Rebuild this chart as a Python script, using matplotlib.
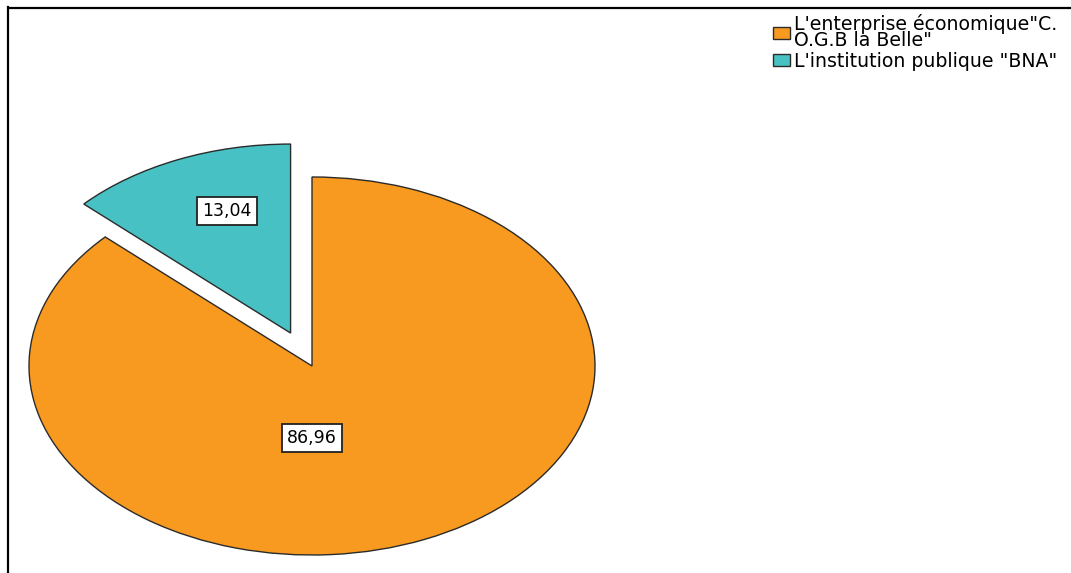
import matplotlib
matplotlib.use("Agg")
import matplotlib.pyplot as plt
from matplotlib.lines import Line2D
import numpy as np

# Share of respondents by organisation (percent)
categories = ["L'enterprise économique\"C.\nO.G.B la Belle\"", "L'institution publique \"BNA\""]
values = [86.96, 13.04]
colors = ["#F89A1F", "#47C1C4"]
explode = [0.0, 0.19]

W, H = 1071, 573
fig = plt.figure(figsize=(W / 100, H / 100), dpi=100)
fig.patch.set_facecolor("white")

# Pie axes: elliptical pie centred at (312, 366) px with radii 283 x 189 px
cx_px, cy_px, rx_px, ry_px = 312, H - 366, 283, 189
xl, yl = (-1.1, 1.1), (-1.05, 1.3)
left = cx_px + xl[0] * rx_px
bottom = cy_px + yl[0] * ry_px
ax = fig.add_axes([left / W, bottom / H,
                   (xl[1] - xl[0]) * rx_px / W, (yl[1] - yl[0]) * ry_px / H])

wedges, _ = ax.pie(values, colors=colors, startangle=90, counterclock=False,
                   explode=explode,
                   wedgeprops=dict(edgecolor="#2b2b2b", linewidth=1.0))
ax.set_aspect("auto")
ax.set_xlim(*xl)
ax.set_ylim(*yl)
ax.axis("off")

def fmt(v):
    return f"{v:.2f}".replace(".", ",")

box = dict(boxstyle="square,pad=0.3", facecolor="white", edgecolor="#222222", linewidth=1.3)
label_font = dict(family="DejaVu Sans", size=12.5)

# Large slice label sits straight below the centre
w0 = wedges[0]
ax.text(w0.center[0], w0.center[1] - 0.38, fmt(values[0]), ha="center", va="center",
        bbox=box, **label_font)

# Small slice label inside its wedge, offset from the wedge tip
w1 = wedges[1]
ax.text(w1.center[0] - 0.226, w1.center[1] + 0.646,
        fmt(values[1]), ha="center", va="center", bbox=box, **label_font)

# Legend in the top-right corner
leg = fig.legend(wedges, categories, loc="upper left",
                 bbox_to_anchor=(773 / W, 1 - 14 / H),
                 frameon=False, borderpad=0, borderaxespad=0,
                 handlelength=0.9, handleheight=0.58, handletextpad=0.22,
                 labelspacing=0.12,
                 prop=dict(family="DejaVu Sans", size=13.6))
for t in leg.get_texts():
    t.set_linespacing(0.78)

# Frame lines along the top and left edges
fig.add_artist(Line2D([8 / W, 1], [1 - 7.5 / H, 1 - 7.5 / H],
                      transform=fig.transFigure, color="black", linewidth=1.6,
                      solid_capstyle="butt"))
fig.add_artist(Line2D([8 / W, 8 / W], [0, 1 - 6.5 / H],
                      transform=fig.transFigure, color="black", linewidth=1.6,
                      solid_capstyle="projecting"))

fig.savefig("out.png", dpi=100, facecolor="white")
